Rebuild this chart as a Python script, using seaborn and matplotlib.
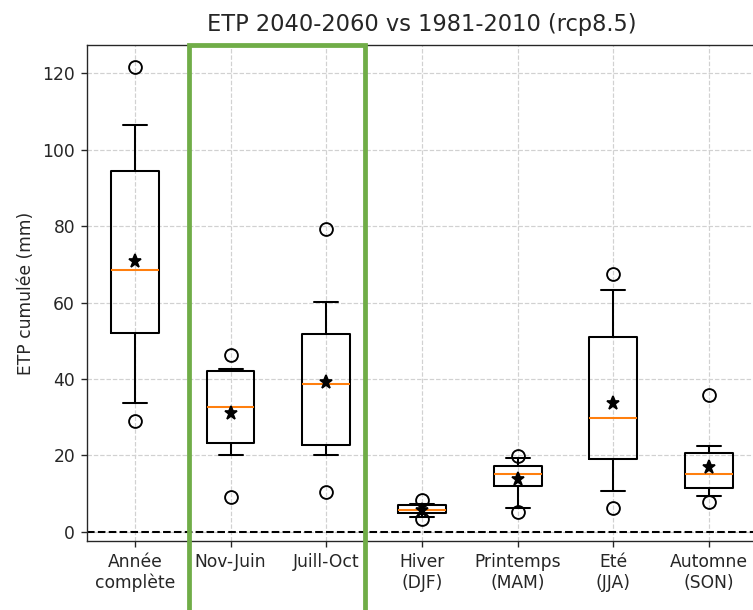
import numpy as np
import matplotlib
matplotlib.use('Agg')
import matplotlib.pyplot as plt
from matplotlib.patches import Rectangle
import seaborn as sns

# Box statistics
labels = ['Année\ncomplète', 'Nov-Juin', 'Juill-Oct', 'Hiver\n(DJF)',
          'Printemps\n(MAM)', 'Eté\n(JJA)', 'Automne\n(SON)']
medians = [68.5, 32.6, 38.6, 5.6, 15.1, 29.8, 15.1]
means = [70.8, 31.0, 39.3, 5.8, 13.9, 33.6, 17.0]
q1 = [52.0, 23.2, 22.7, 5.05, 11.9, 19.0, 11.5]
q3 = [94.5, 42.2, 51.9, 7.06, 17.2, 50.9, 20.65]
whislo = [33.7, 20.0, 20.0, 3.8, 6.2, 10.8, 9.5]
whishi = [106.4, 42.5, 60.1, 7.4, 19.4, 63.2, 22.4]
flier_lo = [29.1, 9.1, 10.3, 3.3, 5.3, 6.2, 7.9]
flier_hi = [121.6, 46.4, 79.2, 8.3, 19.9, 67.5, 35.8]

sns.set_style('ticks')
plt.rcParams['font.family'] = ['DejaVu Sans']

dpi = 123
fig = plt.figure(figsize=(753 / dpi, 610 / dpi), dpi=dpi)
ax = fig.add_axes([87 / 753, 1 - 541 / 610, 670 / 753, (541 - 45) / 610])

stats = []
for i in range(len(labels)):
    stats.append({'med': medians[i], 'mean': means[i], 'q1': q1[i], 'q3': q3[i],
                  'whislo': whislo[i], 'whishi': whishi[i],
                  'fliers': np.array([flier_lo[i], flier_hi[i]]), 'label': labels[i]})

ax.bxp(stats, showmeans=True,
       boxprops=dict(color='black', lw=1.2),
       whiskerprops=dict(color='black', lw=1.2),
       capprops=dict(color='black', lw=1.2),
       medianprops=dict(color='#ff7f0e', lw=1.2),
       flierprops=dict(marker='o', mfc='none', mec='black', ms=7.5, mew=1.1),
       meanprops=dict(marker='*', mfc='black', mec='black', ms=8))

ax.axhline(0, color='black', ls='--', lw=1.2)
ax.grid(True, ls='--', color='0.82', lw=0.7)
ax.set_axisbelow(True)
ax.set_xlim(0.5, 7.5)
ax.set_ylim(-2.4, 127.4)
ax.set_yticks([0, 20, 40, 60, 80, 100, 120])
ax.set_ylabel('ETP cumulée (mm)', fontsize=10)
ax.set_title('ETP 2040-2060 vs 1981-2010 (rcp8.5)', fontsize=13.2, pad=8)
ax.tick_params(labelsize=10, colors='0.15')
for s in ax.spines.values():
    s.set_color('0.15')

# green frame around Nov-Juin / Juill-Oct
x0, x1 = 189 / 753, 365 / 753
ytop = 1 - 44.5 / 610
fig.patches.append(Rectangle((x0, -0.05), x1 - x0, ytop + 0.05, transform=fig.transFigure,
                             fill=False, ec='#70AD47', lw=2.8, zorder=10))

fig.savefig('out.png', dpi=dpi)
